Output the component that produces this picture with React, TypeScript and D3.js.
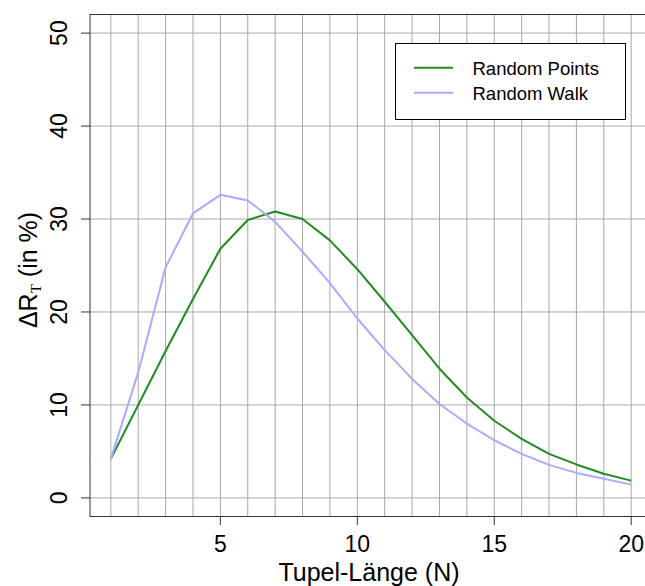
import React from "react";
import * as d3 from "d3";

const tupelLength = [1, 2, 3, 4, 5, 6, 7, 8, 9, 10, 11, 12, 13, 14, 15, 16, 17, 18, 19, 20];
const randomPoints = [4.2, 10.0, 15.8, 21.4, 26.8, 29.9, 30.8, 30.0, 27.7, 24.6, 21.1, 17.5, 13.9, 10.8, 8.3, 6.35, 4.74, 3.6, 2.6, 1.86];
const randomWalk = [4.2, 13.5, 24.8, 30.6, 32.6, 32.0, 29.7, 26.5, 23.1, 19.3, 15.9, 12.8, 10.1, 8.0, 6.2, 4.74, 3.55, 2.69, 2.05, 1.43];
const xTicks = [5, 10, 15, 20];
const yTicks = [0, 10, 20, 30, 40, 50];
const seriesNames = ["Random Points", "Random Walk"];
const seriesColors = ["#228B22", "#aaaaff"];

const W = 645;
const H = 586;
const L = 90, R = 652, T = 14.5, B = 516.5;

export default function App() {
  const x = d3.scaleLinear().domain([0.24, 20.76]).range([L, R]);
  const y = d3.scaleLinear().domain([-2, 52]).range([B, T]);
  const line = d3
    .line<number>()
    .x((_, i) => x(tupelLength[i]))
    .y((d) => y(d));
  const series = [randomPoints, randomWalk];
  const font = "Liberation Sans, Arial, sans-serif";

  return (
    <svg
      width={W}
      height={H}
      style={{ position: "absolute", left: 0, top: 0, background: "#fff" }}
      fontFamily={font}
    >
      <rect x={0} y={0} width={W} height={H} fill="#fff" />
      {/* grid */}
      {tupelLength.map((v) => (
        <line key={"gx" + v} x1={x(v)} x2={x(v)} y1={T} y2={B} stroke="#a9a9a9" strokeWidth={1} />
      ))}
      {yTicks.map((v) => (
        <line key={"gy" + v} x1={L} x2={R} y1={y(v)} y2={y(v)} stroke="#a9a9a9" strokeWidth={1} />
      ))}
      {/* series */}
      {series.map((s, i) => (
        <path key={"s" + i} d={line(s) || ""} fill="none" stroke={seriesColors[i]} strokeWidth={2} strokeLinejoin="round" />
      ))}
      {/* box */}
      <rect x={L} y={T} width={R - L} height={B - T} fill="none" stroke="#333" strokeWidth={1} />
      {/* y axis ticks */}
      {yTicks.map((v) => (
        <g key={"yt" + v}>
          <line x1={L - 9} x2={L} y1={y(v)} y2={y(v)} stroke="#333" strokeWidth={1} />
          <text
            transform={`translate(67,${y(v)}) rotate(-90)`}
            textAnchor="middle"
            fontSize={23}
            fill="#000"
          >
            {v}
          </text>
        </g>
      ))}
      {/* x axis ticks */}
      {xTicks.map((v) => (
        <g key={"xt" + v}>
          <line x1={x(v)} x2={x(v)} y1={B} y2={B + 8.5} stroke="#333" strokeWidth={1} />
          <text x={x(v)} y={552} textAnchor="middle" fontSize={23} fill="#000">
            {v}
          </text>
        </g>
      ))}
      {/* axis labels */}
      <text x={(L + R) / 2 - 2} y={581} textAnchor="middle" fontSize={25} fill="#000">
        Tupel-Länge (N)
      </text>
      <text transform={`translate(37,270) rotate(-90)`} textAnchor="middle" fontSize={25} fill="#000">
        ΔR
        <tspan fontFamily="Liberation Serif, serif" fontSize={15} dy={4}>T</tspan>
        <tspan dy={-4}>{"  (in %)"}</tspan>
      </text>
      {/* legend */}
      <rect x={395.5} y={43.5} width={230} height={76} fill="#fff" stroke="#000" strokeWidth={1} />
      {seriesNames.map((n, i) => (
        <g key={"lg" + i}>
          <line x1={414} x2={453} y1={67.7 + i * 25} y2={67.7 + i * 25} stroke={seriesColors[i]} strokeWidth={2} />
          <text x={472.5} y={74.5 + i * 25} fontSize={18.5} fill="#000">
            {n}
          </text>
        </g>
      ))}
    </svg>
  );
}
